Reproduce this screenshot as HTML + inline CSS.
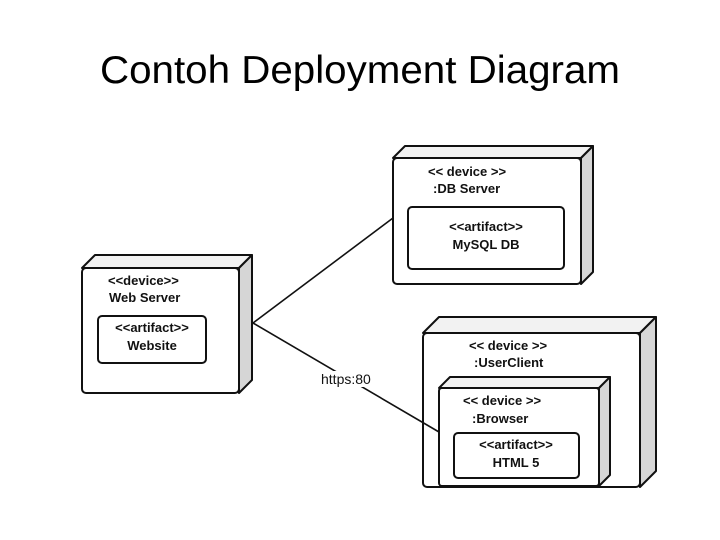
<!DOCTYPE html>
<html><head><meta charset="utf-8"><style>
html,body{margin:0;padding:0;background:#fff}
svg{display:block}
text{font-family:"Liberation Sans",sans-serif}
.b{font-weight:bold;font-size:13px;fill:#111}
</style></head><body>
<svg width="720" height="540" viewBox="0 0 720 540" xmlns="http://www.w3.org/2000/svg">
<text x="360" y="83" text-anchor="middle" font-size="39" textLength="520" lengthAdjust="spacingAndGlyphs" style="font-family:'Liberation Sans',sans-serif" fill="#000">Contoh Deployment Diagram</text>

<g stroke="#111" stroke-width="2" stroke-linejoin="round">
<!-- Web Server -->
<polygon points="82,268 95,255 252,255 239,268" fill="#f2f2f2"/>
<polygon points="239,268 252,255 252,380 239,393" fill="#d6d6d6"/>
<rect x="82" y="268" width="157" height="125" rx="4" fill="#fff"/>
<rect x="98" y="316" width="108" height="47" rx="4" fill="#fff"/>
<!-- DB Server -->
<polygon points="393,158 405,146 593,146 581,158" fill="#f2f2f2"/>
<polygon points="581,158 593,146 593,272 581,284" fill="#d6d6d6"/>
<rect x="393" y="158" width="188" height="126" rx="4" fill="#fff"/>
<rect x="408" y="207" width="156" height="62" rx="4" fill="#fff"/>
<!-- UserClient -->
<polygon points="423,333 439,317 656,317 640,333" fill="#f2f2f2"/>
<polygon points="640,333 656,317 656,471 640,487" fill="#d6d6d6"/>
<rect x="423" y="333" width="217" height="154" rx="4" fill="#fff"/>
<!-- Browser -->
<polygon points="439,388 450,377 610,377 599,388" fill="#f2f2f2"/>
<polygon points="599,388 610,377 610,475 599,486" fill="#d6d6d6"/>
<rect x="439" y="388" width="160" height="98" rx="3" fill="#fff"/>
<rect x="454" y="433" width="125" height="45" rx="4" fill="#fff"/>
<!-- connectors -->
<line x1="253" y1="323" x2="393" y2="218" stroke-width="1.6"/>
<line x1="253" y1="323" x2="439" y2="432" stroke-width="1.6"/>
</g>
<rect x="320" y="371" width="51" height="16" fill="#fff"/>
<text x="321" y="384" font-size="14" fill="#111">https:80</text>

<text class="b" x="108" y="285">&lt;&lt;device&gt;&gt;</text>
<text class="b" x="109" y="302" font-size="13.5">Web Server</text>
<text class="b" x="152" y="332" text-anchor="middle">&lt;&lt;artifact&gt;&gt;</text>
<text class="b" x="152" y="350" text-anchor="middle">Website</text>

<text class="b" x="428" y="176">&lt;&lt; device &gt;&gt;</text>
<text class="b" x="433" y="193">:DB Server</text>
<text class="b" x="486" y="231" text-anchor="middle">&lt;&lt;artifact&gt;&gt;</text>
<text class="b" x="486" y="249" text-anchor="middle">MySQL DB</text>

<text class="b" x="469" y="350">&lt;&lt; device &gt;&gt;</text>
<text class="b" x="474" y="367">:UserClient</text>
<text class="b" x="463" y="405">&lt;&lt; device &gt;&gt;</text>
<text class="b" x="472" y="423">:Browser</text>
<text class="b" x="516" y="449" text-anchor="middle">&lt;&lt;artifact&gt;&gt;</text>
<text class="b" x="516" y="467" text-anchor="middle">HTML 5</text>
</svg>
</body></html>
